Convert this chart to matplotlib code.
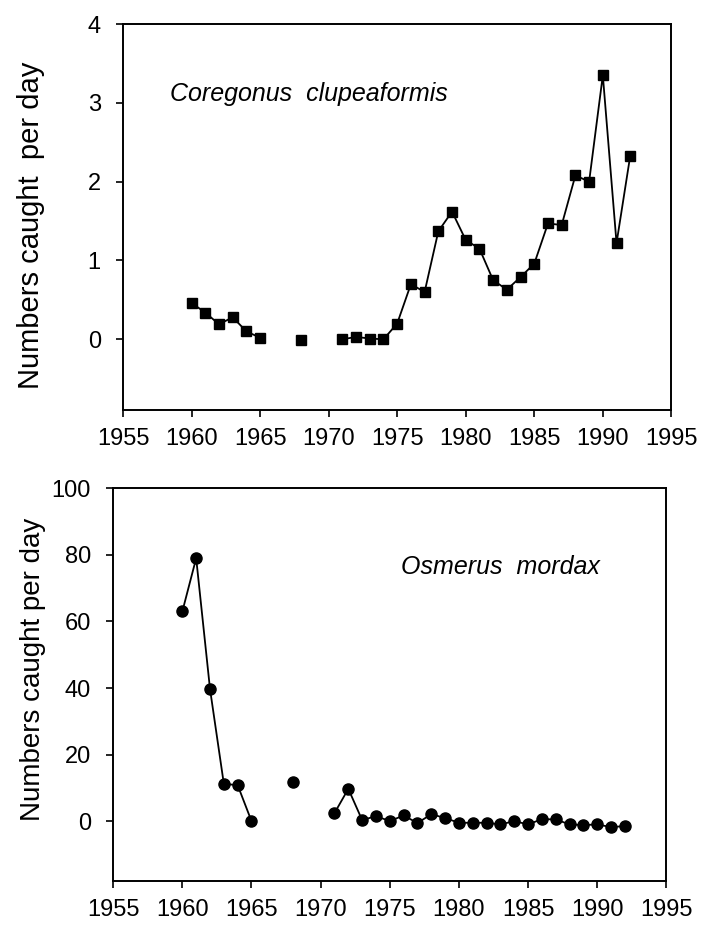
import numpy as np
import matplotlib
matplotlib.use("Agg")
import matplotlib.pyplot as plt

plt.rcParams['font.family'] = ['Liberation Sans', 'DejaVu Sans']

years = list(range(1960, 1993))
nan = float('nan')

# Coregonus clupeaformis (numbers caught per day)
coregonus = [0.46, 0.34, 0.19, 0.28, 0.10, 0.02, nan, nan, -0.01, nan, nan,
             0.00, 0.03, 0.01, 0.00, 0.20, 0.70, 0.60, 1.37, 1.62, 1.26,
             1.15, 0.75, 0.63, 0.79, 0.96, 1.47, 1.45, 2.08, 2.00, 3.35,
             1.22, 2.33]

# Osmerus mordax (numbers caught per day)
osmerus = [63, 79, 39.7, 11.2, 10.8, 0.0, nan, nan, 11.8, nan, nan,
           2.4, 9.7, 0.3, 1.5, 0.0, 1.7, -0.6, 2.1, 0.9, -0.5,
           -0.5, -0.5, -1.0, 0.0, -1.0, 0.6, 0.5, -1.0, -1.2, -1.0,
           -1.8, -1.5]

xticks = [1955, 1960, 1965, 1970, 1975, 1980, 1985, 1990, 1995]
top_yticks = [0, 1, 2, 3, 4]
bot_yticks = [0, 20, 40, 60, 80, 100]

fig = plt.figure(figsize=(7.03, 9.26), dpi=100)

ax1 = fig.add_axes([0.175, 0.557, 0.78, 0.417])
ax2 = fig.add_axes([0.161, 0.0486, 0.787, 0.424])

ax1.plot(years, coregonus, color='black', lw=1.3, marker='s', ms=7,
         mfc='black', mec='black')
ax2.plot(years, osmerus, color='black', lw=1.3, marker='o', ms=8,
         mfc='black', mec='black')

ax1.set_xlim(1955, 1995)
ax1.set_ylim(-0.9, 4)
ax1.set_yticks(top_yticks)
ax2.set_xlim(1955, 1995)
ax2.set_ylim(-18, 100)
ax2.set_yticks(bot_yticks)

for ax in (ax1, ax2):
    ax.set_xticks(xticks)
    ax.tick_params(direction='out', length=5, width=1.2, labelsize=17,
                   colors='black')
    ax.tick_params(axis='x', pad=8)
    ax.tick_params(axis='y', pad=11)
    for s in ax.spines.values():
        s.set_linewidth(1.4)
        s.set_color('black')

ax1.set_ylabel('Numbers caught  per day', fontsize=21)
ax1.yaxis.set_label_coords(-0.143, 0.48)
ax2.set_ylabel('Numbers caught per day', fontsize=20)
ax2.yaxis.set_label_coords(-0.121, 0.54)

ax1.text(0.085, 0.82, 'Coregonus  clupeaformis', transform=ax1.transAxes,
         fontsize=18, style='italic', ha='left', va='center')
ax2.text(0.52, 0.8, 'Osmerus  mordax', transform=ax2.transAxes,
         fontsize=18, style='italic', ha='left', va='center')

fig.savefig('out.png', dpi=100)
